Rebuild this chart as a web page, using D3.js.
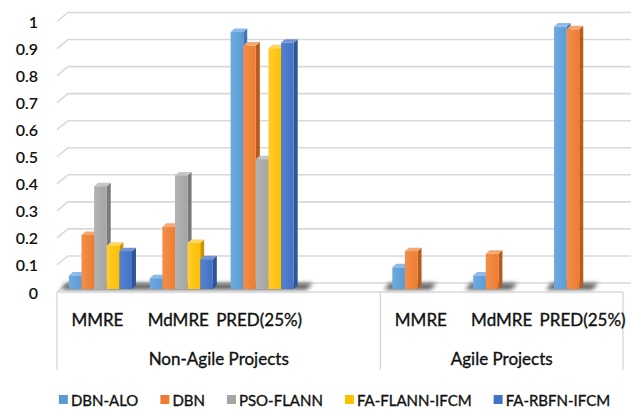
<!DOCTYPE html>
<html>
<head>
<meta charset="utf-8">
<script src="https://cdn.jsdelivr.net/npm/d3@7"></script>
<style>
  html, body { margin: 0; padding: 0; background: #fff; }
  svg { display: block; }
  text { font-family: Lato, "Open Sans", sans-serif; fill: #111; }
  .lbl { stroke: #111; stroke-width: 0.35px; }
</style>
</head>
<body>
<svg id="chart" width="631" height="409"></svg>
<script>
// ---- data ----
const groupNames = ["Non-Agile Projects", "Agile Projects"];
const metrics = ["MMRE", "MdMRE", "PRED(25%)"];
const seriesNames = ["DBN-ALO", "DBN", "PSO-FLANN", "FA-FLANN-IFCM", "FA-RBFN-IFCM"];

// values per series, one entry per metric
const nonAgileDbnAlo   = [0.05, 0.04, 0.95];
const nonAgileDbn      = [0.20, 0.23, 0.90];
const nonAgilePsoFlann = [0.38, 0.42, 0.48];
const nonAgileFaFlann  = [0.16, 0.17, 0.89];
const nonAgileFaRbfn   = [0.14, 0.11, 0.91];

const agileDbnAlo = [0.08, 0.05, 0.97];
const agileDbn    = [0.14, 0.13, 0.96];

const yTicks = [0, 0.1, 0.2, 0.3, 0.4, 0.5, 0.6, 0.7, 0.8, 0.9, 1];

// ---- styling ----
const seriesColors = {
  "DBN-ALO":       { front: "#5b9bd5", light: "#6eaae0", side: "#3f79b2", top: "#8bbbe6" },
  "DBN":           { front: "#ed7d31", light: "#f38e4a", side: "#b95b1d", top: "#f5a672" },
  "PSO-FLANN":     { front: "#a5a5a5", light: "#b3b3b3", side: "#7a7a7a", top: "#c6c6c6" },
  "FA-FLANN-IFCM": { front: "#ffc000", light: "#ffcb2e", side: "#c99600", top: "#ffd660" },
  "FA-RBFN-IFCM":  { front: "#4472c4", light: "#5482cf", side: "#2e5597", top: "#7393d3" }
};

// ---- assemble rows ----
const nonAgileValues = [nonAgileDbnAlo, nonAgileDbn, nonAgilePsoFlann, nonAgileFaFlann, nonAgileFaRbfn];
const agileValues = [agileDbnAlo, agileDbn, null, null, null];

// category slots along the x axis (an empty spacer slot closes the first group)
const slots = [];
metrics.forEach((m, i) => slots.push({ id: "na-" + i, label: m, group: 0,
  values: nonAgileValues.map(s => s ? s[i] : null) }));
slots.push({ id: "na-gap", label: "", group: 0, values: seriesNames.map(() => null) });
metrics.forEach((m, i) => slots.push({ id: "ag-" + i, label: m, group: 1,
  values: agileValues.map(s => s ? s[i] : null) }));

const svg = d3.select("#chart");
const W = 631, H = 409;

// front plane of the plot box
const left = 57, right = 623;
const yFront = d3.scaleLinear().domain([0, 1]).range([292, 21.5]);
// depth offsets: back wall and bar plane
const wallDx = 11, wallDy = -9;
const barDx = 3, barDy = -3;
// bar extrusion
const exDx = 4, exDy = -3.5;

const x0 = d3.scaleBand().domain(slots.map(d => d.id)).range([left, right])
  .paddingInner(0.22).paddingOuter(0.11);
const x1 = d3.scaleBand().domain(seriesNames).range([0, x0.bandwidth()]);
const yBar = v => yFront(v) + barDy;

const defs = svg.append("defs");
const blur = defs.append("filter").attr("id", "shadowBlur")
  .attr("x", "-20%").attr("y", "-100%").attr("width", "140%").attr("height", "300%");
blur.append("feGaussianBlur").attr("stdDeviation", 2.2);

seriesNames.forEach((s, i) => {
  const g = defs.append("linearGradient").attr("id", "grad" + i)
    .attr("x1", "0").attr("x2", "1").attr("y1", "0").attr("y2", "0");
  g.append("stop").attr("offset", "0").attr("stop-color", seriesColors[s].light);
  g.append("stop").attr("offset", "1").attr("stop-color", seriesColors[s].front);
});

// ---- back-wall gridlines ----
const grid = svg.append("g").attr("fill", "none").attr("stroke", "#d9d9d9").attr("stroke-width", 1.6);
yTicks.forEach(v => {
  const yf = yFront(v);
  grid.append("polyline").attr("points",
    [[left, yf], [left + wallDx, yf + wallDy], [W, yf + wallDy]].map(p => p.join(",")).join(" "));
});

// ---- y tick labels ----
svg.append("g").selectAll("text").data(yTicks).join("text")
  .attr("x", 38).attr("y", d => yFront(d))
  .attr("text-anchor", "end").attr("dominant-baseline", "central")
  .attr("font-size", 16).attr("font-weight", 600)
  .text(d => d3.format("~g")(d));

// ---- bar list ----
const bars = [];
slots.forEach(slot => {
  slot.values.forEach((v, si) => {
    if (v == null) return;
    const x = x0(slot.id) + x1(seriesNames[si]) + barDx;
    bars.push({ x, w: x1.bandwidth(), v, si, name: seriesNames[si] });
  });
});

// ---- floor shadows ----
const y0 = yBar(0);
const shadowG = svg.append("g").attr("filter", "url(#shadowBlur)").attr("opacity", 0.78);
shadowG.selectAll("polygon").data(bars).join("polygon")
  .attr("fill", "#3a3a3a")
  .attr("points", d => [
    [d.x - 8, y0 + 1], [d.x + d.w + 13, y0 + 1],
    [d.x + d.w + 19, y0 - 6], [d.x - 3, y0 - 6]
  ].map(p => p.join(",")).join(" "));

// ---- 3D bars ----
const barG = svg.append("g");
bars.forEach(d => {
  const c = seriesColors[d.name];
  const yt = yBar(d.v);
  const g = barG.append("g");
  // side face
  g.append("polygon").attr("fill", c.side).attr("points", [
    [d.x + d.w, yt], [d.x + d.w + exDx, yt + exDy],
    [d.x + d.w + exDx, y0 + exDy], [d.x + d.w, y0]
  ].map(p => p.join(",")).join(" "));
  // top face
  g.append("polygon").attr("fill", c.top).attr("points", [
    [d.x, yt], [d.x + exDx, yt + exDy], [d.x + d.w + exDx, yt + exDy], [d.x + d.w, yt]
  ].map(p => p.join(",")).join(" "));
  // front face
  g.append("rect").attr("x", d.x).attr("y", yt).attr("width", d.w).attr("height", y0 - yt)
    .attr("fill", `url(#grad${d.si})`);
});

// ---- category axis ----
const axisY = 292, axisBottom = 370;
const axisG = svg.append("g").attr("stroke", "#d9d9d9").attr("stroke-width", 1.4);
axisG.append("line").attr("x1", left).attr("x2", right).attr("y1", axisY).attr("y2", axisY);
const groupEdges = [left, x0("ag-0") - x0.step() * x0.paddingInner() / 2, right];
groupEdges.forEach(x => axisG.append("line")
  .attr("x1", x).attr("x2", x).attr("y1", axisY).attr("y2", axisBottom));

svg.append("g").selectAll("text").data(slots.filter(d => d.label)).join("text")
  .attr("class", "lbl")
  .attr("x", d => x0(d.id) + x0.bandwidth() / 2).attr("y", 319)
  .attr("text-anchor", "middle").attr("dominant-baseline", "central")
  .attr("font-size", 17)
  .text(d => d.label);

svg.append("g").selectAll("text").data(groupNames).join("text")
  .attr("class", "lbl")
  .attr("x", (d, i) => (groupEdges[i] + groupEdges[i + 1]) / 2).attr("y", 358)
  .attr("text-anchor", "middle").attr("dominant-baseline", "central")
  .attr("font-size", 17)
  .text(d => d);

// ---- legend ----
const legend = svg.append("g");
const items = seriesNames.map(name => {
  const g = legend.append("g");
  g.append("rect").attr("width", 9).attr("height", 9).attr("y", -4.5)
    .attr("fill", seriesColors[name].front);
  const t = g.append("text").attr("class", "lbl").attr("x", 12).attr("dominant-baseline", "central")
    .attr("font-size", 15).text(name);
  return { g, w: 12 + t.node().getComputedTextLength() };
});
const gap = 22;
const total = d3.sum(items, d => d.w) + gap * (items.length - 1);
let lx = 334.5 - total / 2;
items.forEach(it => { it.g.attr("transform", `translate(${lx},399.5)`); lx += it.w + gap; });
</script>
</body>
</html>
